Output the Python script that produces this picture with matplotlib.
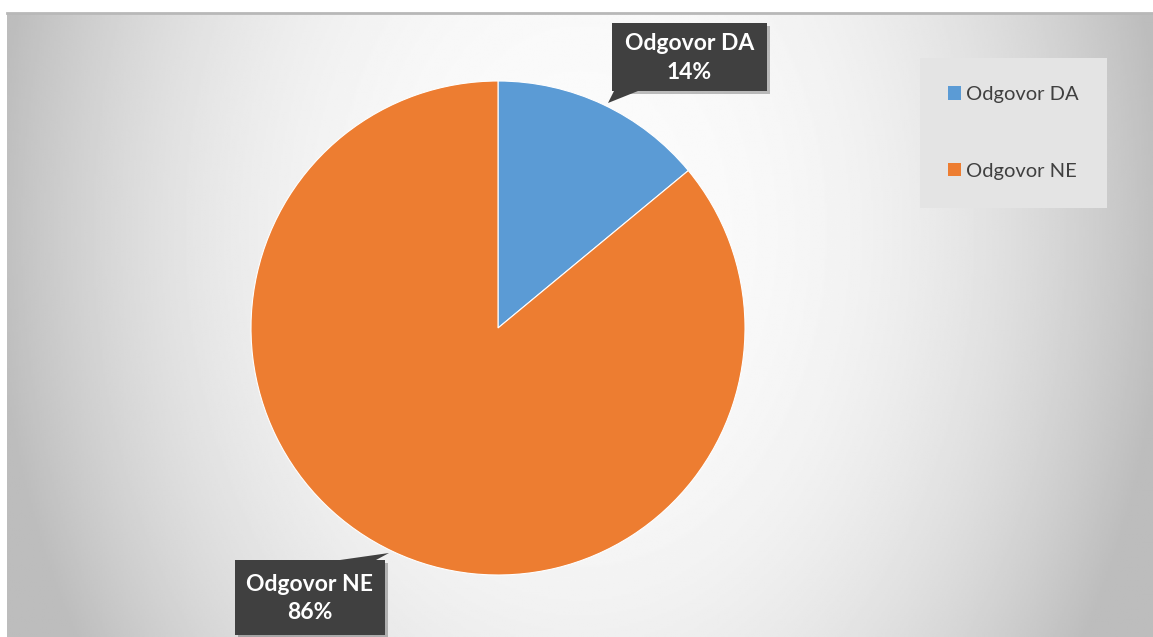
import matplotlib.pyplot as plt
import numpy as np
from matplotlib.patches import FancyBboxPatch, Polygon

labels = ['Odgovor DA', 'Odgovor NE']
values = [14, 86]
colors = ['#5b9bd5', '#ed7d31']

W, H = 1153, 637
fig = plt.figure(figsize=(W / 100, H / 100), dpi=100)
fig.patch.set_facecolor('white')

# chart area background with a soft radial gradient
bg = fig.add_axes([7 / W, 0, 1 - 7 / W, (H - 13) / H])
yy, xx = np.mgrid[-1:1:300j, -1:1:600j]
r = np.sqrt(xx ** 2 + (0.4 * (yy + 0.3)) ** 2)
shade = np.clip(0.985 - 0.23 * r ** 2.5, 0.74, 1)
bg.imshow(shade, cmap='gray', vmin=0, vmax=1, aspect='auto', interpolation='bilinear')
bg.axis('off')
fig.add_artist(plt.Line2D([7 / W, 1], [(H - 12.5) / H] * 2, color='#b8b8b8', lw=2))

# main axes in pixel coordinates (y measured from bottom)
ax = fig.add_axes([0, 0, 1, 1])
wedges, _ = ax.pie(values, colors=colors, startangle=90, counterclock=False,
                   center=(498, H - 328), radius=247, frame=False,
                   wedgeprops=dict(linewidth=0.8, edgecolor='white'))
ax.set_xlim(0, W)
ax.set_ylim(0, H)
ax.set_aspect('equal')
ax.axis('off')

def callout(box, tail, text):
    x0, y0, x1, y1 = box
    ax.add_patch(FancyBboxPatch((x0 + 3, H - y1 - 3), x1 - x0, y1 - y0,
                                boxstyle='square,pad=0', fc='#000000', alpha=0.25,
                                ec='none', zorder=4))
    ax.add_patch(Polygon([(px, H - py) for px, py in tail], closed=True,
                         fc='#404040', ec='none', zorder=5))
    ax.add_patch(FancyBboxPatch((x0, H - y1), x1 - x0, y1 - y0,
                                boxstyle='square,pad=0', fc='#404040', ec='none', zorder=5))
    ax.text((x0 + x1) / 2, H - (y0 + y1) / 2 - 1, text, color='white', fontsize=16.5,
            fontweight='bold', family='Lato', ha='center', va='center',
            linespacing=1.45, zorder=6)

callout((612, 23, 767, 91), [(614, 91), (638, 91), (608, 103)],
        labels[0] + '\n' + str(values[0]) + '%')
callout((235, 560, 385, 635), [(340, 560), (376, 560), (389, 553)],
        labels[1] + '\n' + str(values[1]) + '%')

leg = ax.legend(wedges, labels, loc='upper left', bbox_to_anchor=(920 / W, 1 - 58 / H),
                bbox_transform=fig.transFigure, frameon=True, fancybox=False,
                facecolor='#e4e4e4', edgecolor='none', framealpha=1,
                handlelength=0.65, handleheight=0.65, handletextpad=0.25,
                labelspacing=2.95, borderpad=1.4, borderaxespad=0,
                prop=dict(family='Lato', size=14.5))
for t in leg.get_texts():
    t.set_color('#404040')
for h in leg.legend_handles:
    h.set_edgecolor('none')

fig.savefig('out.png', dpi=100)
